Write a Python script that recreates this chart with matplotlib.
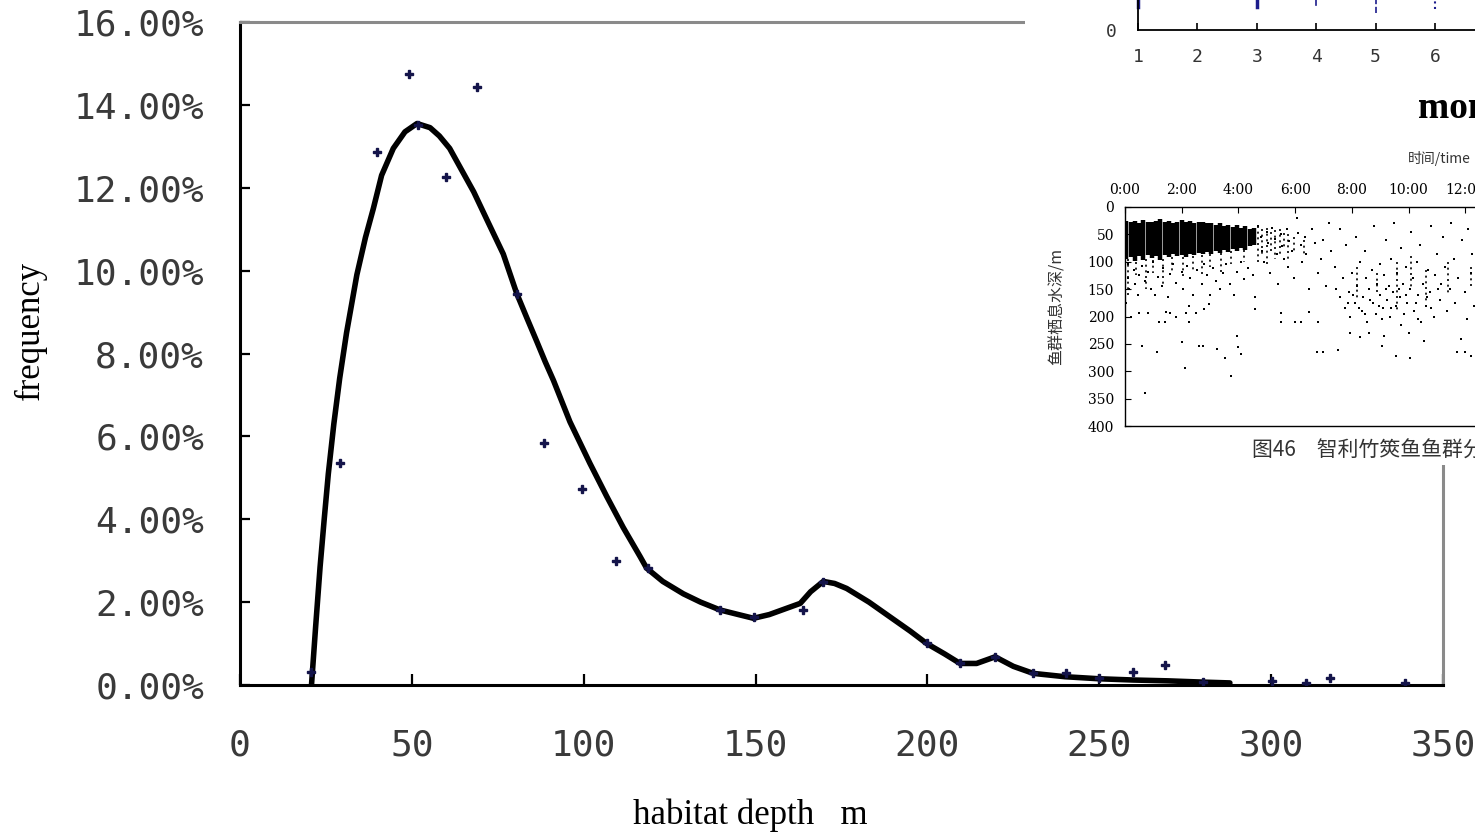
import matplotlib
matplotlib.use("Agg")
import matplotlib.pyplot as plt
from matplotlib.patches import Rectangle
from matplotlib.ticker import FuncFormatter


OUTPUT_PATH = "out.png"
W, H = 1475, 834

# fitted frequency curve (habitat depth m, frequency %)
curve_depth = [20.8, 22, 23.3, 24.5, 25.7, 27.3, 29, 31, 34, 36.5, 38.8, 41.2, 44.6,
               48, 51.5, 55.3, 58, 61, 64, 68, 72, 76.6, 80.5, 83.5, 86.3, 88.8,
               91.2, 96, 101.8, 106.7, 111.5, 116.4, 118.3, 123, 129, 134, 139.7,
               145, 149.4, 154, 159, 163, 166, 169.7, 173, 176.5, 183, 189, 195,
               199.8, 205, 209.5, 214.3, 219.7, 225, 230.8, 240, 250, 260, 270,
               280, 288]
curve_freq = [0.0, 1.4, 2.85, 4.0, 5.1, 6.3, 7.4, 8.5, 9.9, 10.8, 11.5, 12.3, 12.95,
              13.35, 13.55, 13.45, 13.25, 12.95, 12.5, 11.9, 11.2, 10.4, 9.45, 8.85,
              8.3, 7.8, 7.35, 6.35, 5.35, 4.55, 3.8, 3.1, 2.82, 2.5, 2.2, 2.0, 1.81,
              1.7, 1.61, 1.7, 1.85, 1.97, 2.25, 2.5, 2.45, 2.33, 2.0, 1.65, 1.3, 1.0,
              0.75, 0.52, 0.52, 0.68, 0.45, 0.28, 0.2, 0.15, 0.12, 0.1, 0.07, 0.05]

# observed frequencies
obs_depth = [20.7, 29.1, 39.9, 49.2, 51.8, 59.9, 69.0, 80.6, 88.4, 99.5, 109.4, 118.7,
             139.7, 149.5, 163.8, 169.6, 199.9, 209.5, 219.7, 230.7, 240.3, 250,
             259.8, 269.1, 280.2, 300.2, 310, 317.1, 339]
obs_freq = [0.31, 5.36, 12.86, 14.74, 13.51, 12.26, 14.43, 9.44, 5.84, 4.73, 2.99,
            2.82, 1.81, 1.64, 1.81, 2.49, 1.01, 0.53, 0.68, 0.29, 0.29, 0.17, 0.31,
            0.48, 0.07, 0.1, 0.05, 0.18, 0.05]

depth_ticks = [0, 50, 100, 150, 200, 250, 300, 350]
freq_ticks = [0, 2, 4, 6, 8, 10, 12, 14, 16]

# pasted fragment 1: month axis
month_ticks = [1, 2, 3, 4, 5, 6]
month_bar_x = [1, 3, 4, 5, 6]
month_bar_low = [23, 23, 25, 17, 21]
month_bar_style = ["-", "-", "-", "--", ":"]
month_bar_width = [2.5, 2.5, 1.2, 1.2, 1.5]

# pasted fragment 2: school depth by time of day
hour_ticks = [0, 2, 4, 6, 8, 10, 12]
hour_labels = ["0:00", "2:00", "4:00", "6:00", "8:00", "10:00", "12:00"]
school_depth_ticks = [0, 50, 100, 150, 200, 250, 300, 350, 400]

dense_hour = [0.05, 0.2, 0.35, 0.5, 0.65, 0.8, 0.95, 1.1, 1.25, 1.4, 1.55, 1.7, 1.85,
              2.0, 2.15, 2.3, 2.45, 2.6, 2.75, 2.9, 3.05, 3.2, 3.35, 3.5, 3.65, 3.8,
              3.95, 4.1, 4.25, 4.4, 4.55]
dense_top = [25, 28, 26, 30, 24, 28, 27, 25, 22, 28, 26, 30, 27, 24, 28, 26, 30, 28,
             27, 30, 29, 32, 30, 34, 33, 36, 32, 38, 35, 40, 38]
dense_bottom = [95, 92, 98, 90, 96, 88, 94, 90, 96, 88, 92, 86, 90, 88, 92, 85, 88, 84,
                86, 82, 86, 80, 84, 78, 82, 76, 80, 74, 78, 72, 70]

# thinner streaks of dots (hour, top, bottom)
streak_hour = [0.1, 0.4, 0.75, 1.0, 1.35, 1.65, 2.05, 2.4, 2.7, 3.0, 3.4, 3.75, 4.2,
               4.7, 4.85, 5.0, 5.15, 5.3, 5.45, 5.6, 5.75, 5.95, 6.3, 8.2, 8.9,
               9.6, 10.1, 10.6, 11.4, 12.2]
streak_top = [95, 100, 95, 96, 95, 92, 92, 90, 88, 86, 84, 80, 78,
              35, 40, 38, 45, 42, 40, 48, 50, 55, 60, 110, 120,
              100, 90, 115, 100, 110]
streak_bottom = [160, 125, 150, 120, 140, 118, 130, 115, 125, 110, 118, 105, 100,
                 100, 85, 110, 80, 95, 90, 75, 100, 85, 90, 170, 160,
                 190, 150, 175, 160, 150]

school_points = [
    (0.1, 105), (0.1, 130), (0.15, 150), (0.3, 115), (0.35, 140), (0.45, 160),
    (0.5, 125), (0.6, 108), (0.7, 135), (0.8, 118), (0.9, 150), (1.0, 100),
    (1.05, 160), (1.15, 128), (1.3, 145), (1.35, 112), (1.5, 165), (1.6, 122),
    (1.7, 105), (1.8, 138), (2.0, 118), (2.05, 150), (2.2, 108), (2.3, 130),
    (2.4, 160), (2.55, 115), (2.7, 140), (2.8, 105), (2.9, 125), (3.0, 160),
    (3.1, 112), (3.2, 135), (3.35, 150), (3.45, 120), (3.55, 105), (3.7, 140),
    (3.85, 160), (3.95, 118), (4.1, 100), (4.2, 132), (4.35, 112), (4.5, 125),
    (4.6, 165), (0.5, 194), (0.8, 194), (1.2, 210), (1.4, 210), (1.45, 191),
    (1.6, 194), (1.8, 200), (2.15, 194), (2.25, 210), (2.25, 180), (2.5, 194),
    (2.8, 186), (2.95, 177), (4.6, 186), (0.05, 175), (0.2, 200), (0.59, 253),
    (1.12, 264), (0.7, 340), (2.1, 294), (3.74, 308), (2.0, 246), (2.6, 253),
    (2.75, 253), (3.23, 259), (3.53, 276), (3.94, 235), (4.0, 256), (4.1, 268),
    (4.7, 35), (4.8, 55), (4.85, 80), (4.9, 100), (5.0, 45), (5.05, 65),
    (5.1, 120), (5.2, 38), (5.3, 58), (5.35, 85), (5.4, 140), (5.5, 50),
    (5.55, 72), (5.6, 95), (5.7, 40), (5.75, 110), (5.8, 62), (5.9, 80),
    (5.95, 130), (6.05, 20), (6.1, 48), (6.2, 70), (6.25, 100), (6.35, 55),
    (6.4, 85), (6.5, 150), (6.6, 40), (6.7, 65), (6.8, 120), (6.9, 95),
    (7.0, 60), (7.1, 145), (7.2, 30), (5.5, 194), (5.5, 210), (6.0, 210),
    (6.2, 210), (6.5, 191), (6.8, 210), (6.76, 264), (7.0, 264), (7.5, 261),
    (7.25, 80), (7.4, 110), (7.45, 150), (7.6, 165), (7.6, 40), (7.7, 130),
    (7.75, 185), (7.8, 70), (7.9, 155), (7.95, 200), (8.0, 120), (8.1, 175),
    (8.15, 55), (8.2, 145), (8.3, 100), (8.35, 190), (8.4, 165), (8.45, 80),
    (8.5, 130), (8.55, 210), (8.6, 150), (8.7, 115), (8.75, 175), (8.8, 35),
    (8.85, 195), (8.9, 140), (9.0, 105), (9.0, 160), (9.05, 254), (9.1, 185),
    (9.15, 125), (9.2, 60), (9.25, 170), (9.3, 145), (9.35, 200), (9.4, 95),
    (9.45, 155), (9.5, 30), (9.55, 273), (9.55, 180), (9.6, 120), (9.7, 165),
    (9.75, 75), (9.8, 140), (9.85, 195), (9.9, 110), (9.95, 175), (10.05, 276),
    (10.05, 150), (10.1, 45), (10.15, 130), (10.2, 190), (10.3, 100), (10.35, 160),
    (10.4, 70), (10.45, 210), (10.5, 140), (10.55, 245), (10.6, 180), (10.7, 115),
    (10.75, 155), (10.8, 35), (10.9, 200), (10.95, 125), (11.0, 85), (11.1, 170),
    (11.15, 140), (11.2, 55), (11.3, 110), (11.35, 190), (11.45, 150), (11.5, 30),
    (11.6, 95), (11.65, 175), (11.7, 264), (11.75, 130), (11.85, 242), (11.9, 60),
    (12.0, 264), (12.0, 155), (12.05, 205), (12.1, 40), (12.2, 273), (12.2, 120),
    (12.25, 85), (12.3, 180), (8.05, 160), (8.25, 185), (8.65, 170), (8.95, 180),
    (9.2, 150), (9.4, 185), (9.65, 150), (9.9, 160), (10.25, 175), (10.65, 165),
    (7.85, 175), (8.45, 195), (9.05, 205), (9.75, 215), (10.35, 205), (8.6, 230),
    (9.15, 235), (10.0, 230), (8.3, 237), (7.95, 230), (10.8, 185), (11.05, 150),
]

CJK = ["Noto Sans CJK SC", "DejaVu Serif"]


def fig_rect(x0, y0, x1, y1):
    # pixel box (top-left origin) -> figure fraction rect
    return [x0 / W, 1 - y1 / H, (x1 - x0) / W, (y1 - y0) / H]


def main():
    fig = plt.figure(figsize=(W / 100, H / 100), dpi=100)

    # main chart
    ax = fig.add_axes(fig_rect(240, 22, 1443, 685))
    ax.plot(curve_depth, curve_freq, color="black", lw=4, solid_joinstyle="round",
            solid_capstyle="round", zorder=2)
    ax.plot(obs_depth, obs_freq, ls="none", marker="P", ms=6, color="#14144a",
            zorder=3)
    ax.set_xlim(0, 350)
    ax.set_ylim(0, 16)
    ax.set_xticks(depth_ticks)
    ax.set_yticks(freq_ticks)
    ax.yaxis.set_major_formatter(FuncFormatter(lambda v, p: f"{v:.2f}%"))
    for lab in ax.get_xticklabels() + ax.get_yticklabels():
        lab.set_family("DejaVu Sans Mono")
        lab.set_fontsize(26)
        lab.set_color("#3a3a3a")
    ax.tick_params(axis="y", direction="in", length=7, width=1.6, pad=26)
    ax.tick_params(axis="x", direction="in", length=8, width=1.6, pad=31)
    ax.spines["left"].set_linewidth(2.2)
    ax.spines["bottom"].set_linewidth(2.2)
    for side in ["top", "right"]:
        ax.spines[side].set_color("#8a8a8a")
        ax.spines[side].set_linewidth(2.2)

    fig.text(30 / W, 1 - 330 / H, "frequency", rotation=90, ha="center", va="center",
             family="Liberation Serif", fontsize=25)
    fig.text(750 / W, 1 - 815 / H, "habitat depth   m", ha="center", va="center",
             family="Liberation Serif", fontsize=25)

    # white patch with pasted fragments
    fig.add_artist(Rectangle((1025 / W, 1 - 465 / H), 450 / W, 465 / H,
                             transform=fig.transFigure, facecolor="white",
                             edgecolor="none", zorder=1))

    # fragment 1: month axis
    ax_m = fig.add_axes(fig_rect(1138, 0, W, 30), zorder=2)
    ax_m.set_xlim(1, 1 + (W - 1138) / 59.4)
    ax_m.set_ylim(0, 30)
    for x, lo, st, lw in zip(month_bar_x, month_bar_low, month_bar_style,
                             month_bar_width):
        ax_m.plot([x, x], [lo, 30], ls=st, lw=lw, color="#1c1c8c", clip_on=False)
    ax_m.set_xticks(month_ticks)
    ax_m.set_yticks([0])
    ax_m.tick_params(axis="x", direction="in", length=5, width=1.2, pad=13,
                     labelsize=13)
    ax_m.tick_params(axis="y", length=0, pad=15, labelsize=13)
    for lab in ax_m.get_xticklabels() + ax_m.get_yticklabels():
        lab.set_family("DejaVu Sans Mono")
        lab.set_color("#333333")
    ax_m.spines["top"].set_visible(False)
    ax_m.spines["right"].set_visible(False)
    ax_m.spines["left"].set_linewidth(1.3)
    ax_m.spines["bottom"].set_linewidth(1.3)
    fig.text(1418 / W, 1 - 108 / H, "month", ha="left", va="center",
             family="Liberation Serif", fontweight="bold", fontsize=27, zorder=3)

    # fragment 2: school depth by time of day
    ax_s = fig.add_axes(fig_rect(1125, 207, W, 426), zorder=2)
    ax_s.vlines(dense_hour, dense_top, dense_bottom, color="black", lw=3.2)
    ax_s.vlines(streak_hour, streak_top, streak_bottom, color="black", lw=1.2,
                linestyles=(0, (1.2, 2.2)))
    hours = [p[0] for p in school_points]
    depths = [p[1] for p in school_points]
    ax_s.scatter(hours, depths, s=4.5, color="black", marker="s", lw=0)
    ax_s.set_xlim(0, (W - 1125) / 28.35)
    ax_s.set_ylim(400, 0)
    ax_s.xaxis.tick_top()
    ax_s.set_xticks(hour_ticks)
    ax_s.set_xticklabels(hour_labels)
    ax_s.set_yticks(school_depth_ticks)
    ax_s.tick_params(axis="both", direction="in", length=4, width=0.8, labelsize=10)
    ax_s.tick_params(axis="x", pad=7)
    ax_s.tick_params(axis="y", pad=8)
    for lab in ax_s.get_xticklabels() + ax_s.get_yticklabels():
        lab.set_family("DejaVu Serif")
    ax_s.spines["right"].set_visible(False)
    for side in ["top", "left", "bottom"]:
        ax_s.spines[side].set_linewidth(1.0)

    fig.text(1057 / W, 1 - 306 / H, "鱼群栖息水深/m", rotation=90, ha="center",
             va="center", family=CJK, fontsize=11.5, color="#333333", zorder=3)
    fig.text(1408 / W, 1 - 158 / H, "时间/time", ha="left", va="center",
             family=CJK, fontsize=10, color="#333333", zorder=3)
    fig.text(1252 / W, 1 - 451 / H, "图46　智利竹筴鱼鱼群分布", ha="left", va="center",
             family=CJK, fontsize=15, color="#333333", zorder=3)

    fig.savefig(OUTPUT_PATH, dpi=100)
    plt.close(fig)


if __name__ == "__main__":
    main()
